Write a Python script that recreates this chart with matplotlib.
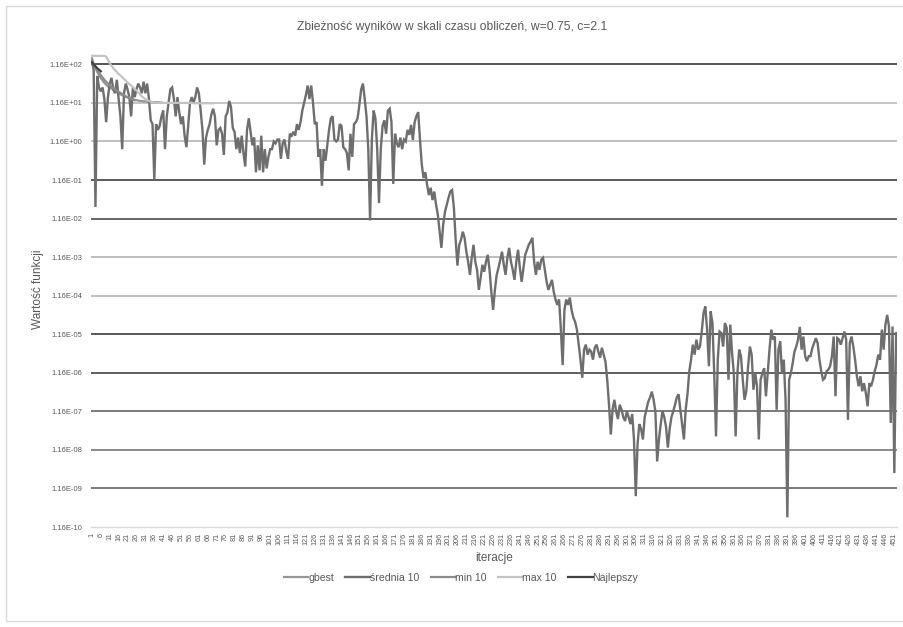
import numpy as np
import matplotlib
matplotlib.use("Agg")
import matplotlib.pyplot as plt
from matplotlib.ticker import FixedLocator, NullLocator
from matplotlib.patches import Rectangle

plt.rcParams['font.family'] = ['Liberation Sans', 'DejaVu Sans']

# all values kept as decimal exponents relative to 1.16 (value = 1.16 * 10**e)
srednia_exp = [
    2.1, 1.85, -1.7, 1.7, 1.4, 1.3, 1.4, 1.1, 0.5, 1.15,
    1.5, 1.65, 1.35, 1.25, 1.6, 1.1, 0.65, -0.2, 1.25, 1.5,
    1.35, 1.15, 0.65, 1.4, 1.15, 1.35, 1.5, 1.4, 1.25, 1.55,
    1.25, 1.5, 1.1, 0.55, 0.45, -0.98, 0.45, 0.3, 0.4, 0.65,
    0.8, -0.2, 0.65, 1.0, 1.35, 1.4, 1.1, 0.65, 1.15, 0.75,
    0.45, 0.65, 0.15, -0.15, 0.4, 1.0, 1.15, 1.0,
    1.15, 1.4, 1.25, 0.8, 0.3, -0.6, 0.1, 0.3, 0.45, 0.7,
    0.85, 0.65, -0.1, 0.3, 0.35, 0.2, -0.35, 0.65, 0.75, 1.05,
    0.9, 0.35, 0.25, -0.2, 0.1, -0.3, 0.15, -0.3, -0.65, 0.3,
    0.6, 0.25, -0.1, 0.1, -0.8, -0.1, -0.75, 0.15, -0.8, -0.2,
    -0.7, -0.4, -0.2, -0.2, 0.0, -0.05, 0.05, 0.05, -0.45, -0.05,
    0.05, -0.25, -0.45, 0.2, 0.15, 0.25, 0.15, 0.45, 0.3, 0.5,
    0.8, 1.0, 1.2, 1.45, 1.1, 1.45, 1.0, 0.45, 0.5, -0.4,
    -0.2, -1.15, -0.2, -0.5, -0.1, 0.3, 0.6, 0.65, 0.05, 0.0,
    0.05, 0.45, 0.4, -0.15, -0.2, -0.3, -0.75, 0.2, -0.4, 0.45,
    0.5, 0.6, 0.95, 1.35, 1.5, 1.1, 0.65, -0.2, -2.05, 0.05,
    0.8, 0.6, -0.2, -1.6, -0.2, 0.4, 0.55, 0.2, 0.8, 0.85,
    0.5, -1.1, 0.2, -0.05, -0.15, 0.1, -0.2, 0.05,
    0.0, 0.3, 0.17, 0.43, 0.04, 0.5, 0.66, 0.76, 0.04, -0.6,
    -0.95, -0.8, -1.13, -1.39, -1.2, -1.52, -1.3, -1.64, -1.9, -2.34,
    -2.76, -2.16, -1.83, -1.64, -1.46, -1.3, -1.26, -1.72, -2.55, -3.22,
    -2.68, -2.55, -2.34, -2.5, -2.86, -3.12, -3.46, -3.02, -2.68, -3.12,
    -3.33, -3.85, -3.54, -3.2, -3.38, -3.12, -2.94, -3.33, -3.9, -4.37,
    -3.85, -3.46, -3.28, -3.07, -2.86, -3.2, -3.46, -3.02, -2.76, -3.12,
    -3.33, -3.59, -3.12, -2.81, -3.28, -3.64, -3.28, -2.94, -2.81, -2.68,
    -2.6, -2.5, -3.12, -3.46, -3.12, -3.33, -3.07, -3.02, -3.33, -3.64,
    -3.85, -3.72, -3.59, -3.9, -4.1, -4.24, -4.1, -4.88, -5.8, -4.37,
    -4.1, -4.24, -4.05, -4.37, -4.57, -4.68, -4.88, -5.27, -5.66, -6.13,
    -5.4, -5.27, -5.53, -5.4, -5.45, -5.66, -5.35, -5.27, -5.45, -5.61,
    -5.35, -5.53, -5.71, -6.18, -6.83, -7.6, -6.95, -6.7, -7.0, -7.2,
    -6.83, -6.95, -7.15, -7.25, -7.0, -7.15, -7.33, -7.07, -7.73, -9.2,
    -7.86, -7.33, -7.46, -7.73, -7.15, -6.95, -6.75, -6.64, -6.49, -6.7,
    -7.0, -8.3, -7.73, -7.33, -7.0, -7.15, -7.41, -7.94, -7.46, -7.15,
    -7.0, -6.83, -6.64, -6.56, -6.95, -7.33, -7.73, -6.95, -6.56, -5.97,
    -5.66, -5.27, -5.53, -5.14, -5.4, -5.32,
    -4.93, -4.45, -4.28, -4.88, -5.83, -4.41, -4.71, -6.01, -7.65, -5.66,
    -4.93, -4.97, -5.32, -4.71, -4.84, -6.18, -4.75, -5.49, -6.01, -7.65,
    -6.01, -5.4, -5.57, -6.18, -6.7, -6.48, -5.83, -5.32, -5.53, -6.44,
    -6.01, -6.35, -7.73, -6.18, -6.01, -5.88, -6.61, -6.01, -5.4, -4.88,
    -5.14, -5.06, -6.96, -5.4, -5.19, -6.01, -5.66, -6.7, -9.75, -6.18,
    -6.01, -5.75, -5.45, -5.32, -5.14, -4.81, -5.4, -5.06, -5.57, -5.7,
    -5.57, -5.57, -5.36, -5.23, -5.1, -5.23, -5.66, -5.96, -6.18, -6.14,
    -5.96, -5.92, -5.83, -5.57, -5.06, -6.61, -5.1, -5.14, -5.27, -5.1,
    -4.93, -5.14, -7.22, -5.23, -5.06, -5.32, -5.66, -6.09, -6.35, -6.09,
    -6.48, -6.27, -6.52, -6.87, -6.27, -6.35, -6.18, -5.96, -5.79, -5.53,
    -5.66, -4.88, -5.4, -4.75, -4.5, -4.8, -7.3, -4.8, -8.6, -4.97,
]

max10_exp = [
    2.22, 2.22, 2.22, 2.22, 2.22, 2.22, 2.22, 2.22, 2.2, 2.12,
    2.03, 1.96, 1.9, 1.85, 1.8, 1.75, 1.71, 1.67, 1.62, 1.58,
    1.53, 1.49, 1.45, 1.41, 1.36, 1.32, 1.27, 1.22, 1.17, 1.13,
    1.1, 1.07, 1.05, 1.03, 1.02, 1.01, 1.01, 1.0, 1.0, 1.0,
    1.0, 1.0, 1.0, 1.0, 1.0, 1.0, 1.0, 1.0, 1.0, 1.0,
    1.0, 1.0, 1.0, 1.0, 1.0, 1.0, 1.0, 0.99, 0.99, 0.99,
    0.99, 0.99, 0.99, 0.99, 0.99, 0.99, 0.99, 0.99, 0.99,
]

gbest_exp = [
    2.16, 2.02, 1.9, 1.8, 1.72, 1.64, 1.58, 1.52, 1.47, 1.43,
    1.4, 1.37, 1.34, 1.31, 1.28, 1.25, 1.22, 1.2, 1.18, 1.16,
    1.14, 1.12, 1.1, 1.09, 1.08, 1.07, 1.06, 1.05, 1.05, 1.04,
    1.04, 1.03, 1.03, 1.03, 1.02, 1.02, 1.02, 1.02, 1.01, 1.01,
]

min10_exp = [
    2.1, 2.0, 1.92, 1.85, 1.78, 1.72, 1.66, 1.6, 1.55, 1.5,
    1.46, 1.42, 1.38, 1.35, 1.32, 1.29, 1.26, 1.23, 1.2, 1.17,
    1.15, 1.13, 1.11, 1.09, 1.07,
]

najlepszy_exp = [2.05, 2.0, 1.95, 1.9, 1.86, 1.82]

x_labels = [str(i) for i in range(1, 452, 5)]
y_exponents = list(range(2, -11, -1))


def to_value(exps):
    return 1.16 * 10.0 ** np.array(exps)


fig = plt.figure(figsize=(9.04, 6.27), dpi=100)
fig.patches.append(Rectangle((6 / 904, 6 / 627), 1.0, 615 / 627, transform=fig.transFigure,
                             fill=False, edgecolor='#d9d9d9', linewidth=1.0))
ax = fig.add_axes([91 / 904, 100 / 627, 806 / 904, 475 / 627])

ax.set_yscale('log')
ax.set_ylim(1.16e-10, 1.16 * 10 ** 2.32)
ax.set_xlim(0.5, len(srednia_exp) + 0.5)

# decade lines across the plot
grid_shades = ['#555555', '#c4c4c4', '#c0c0c0', '#5a5a5a', '#666666', '#bdbdbd',
               '#c0c0c0', '#595959', '#5e5e5e', '#7a7a7a', '#8a8a8a', '#7a7a7a']
for k, shade in zip(y_exponents[:-1], grid_shades):
    ax.axhline(1.16 * 10.0 ** k, color=shade, linewidth=1.4, zorder=1)

series = [
    ('gbest', gbest_exp, '#969696', 1.6),
    ('średnia 10', srednia_exp, '#6e6e6e', 1.7),
    ('min 10', min10_exp, '#8c8c8c', 1.6),
    ('max 10', max10_exp, '#c3c3c3', 1.6),
    ('Najlepszy', najlepszy_exp, '#404040', 1.6),
]
for name, exps, col, lw in series:
    xs = np.arange(1, len(exps) + 1)
    ax.plot(xs, to_value(exps), color=col, linewidth=lw, label=name, zorder=3,
            solid_joinstyle='miter')

ax.yaxis.set_major_locator(FixedLocator([1.16 * 10.0 ** k for k in y_exponents]))
ax.yaxis.set_minor_locator(NullLocator())
ax.set_yticklabels(['1.16E%s%02d' % ('+' if k >= 0 else '-', abs(k)) for k in y_exponents])
ax.set_xticks(np.arange(1, 452, 5))
ax.set_xticklabels(x_labels, rotation=90)
ax.tick_params(axis='y', length=0, pad=6, labelsize=5.5, labelcolor='#595959')
ax.tick_params(axis='x', length=0, pad=4, labelsize=5.2, labelcolor='#595959')

for s in ['top', 'right', 'left']:
    ax.spines[s].set_visible(False)
ax.spines['bottom'].set_color('#d9d9d9')
ax.spines['bottom'].set_linewidth(1.0)

fig.text(0.5, 1 - 27 / 627, 'Zbieżność wyników w skali czasu obliczeń, w=0.75, c=2.1',
         ha='center', va='center', fontsize=8.7, color='#595959')
ax.set_ylabel('Wartość funkcji', fontsize=8.5, color='#595959', labelpad=4)
ax.set_xlabel('iteracje', fontsize=8.5, color='#595959', labelpad=5)

fig.legend(loc='center', bbox_to_anchor=(0.51, 1 - 578 / 627), ncol=5, frameon=False,
           fontsize=7.6, handlelength=2.3, handletextpad=0.0, columnspacing=1.1,
           labelcolor='#595959')

fig.savefig('out.png', dpi=100)
